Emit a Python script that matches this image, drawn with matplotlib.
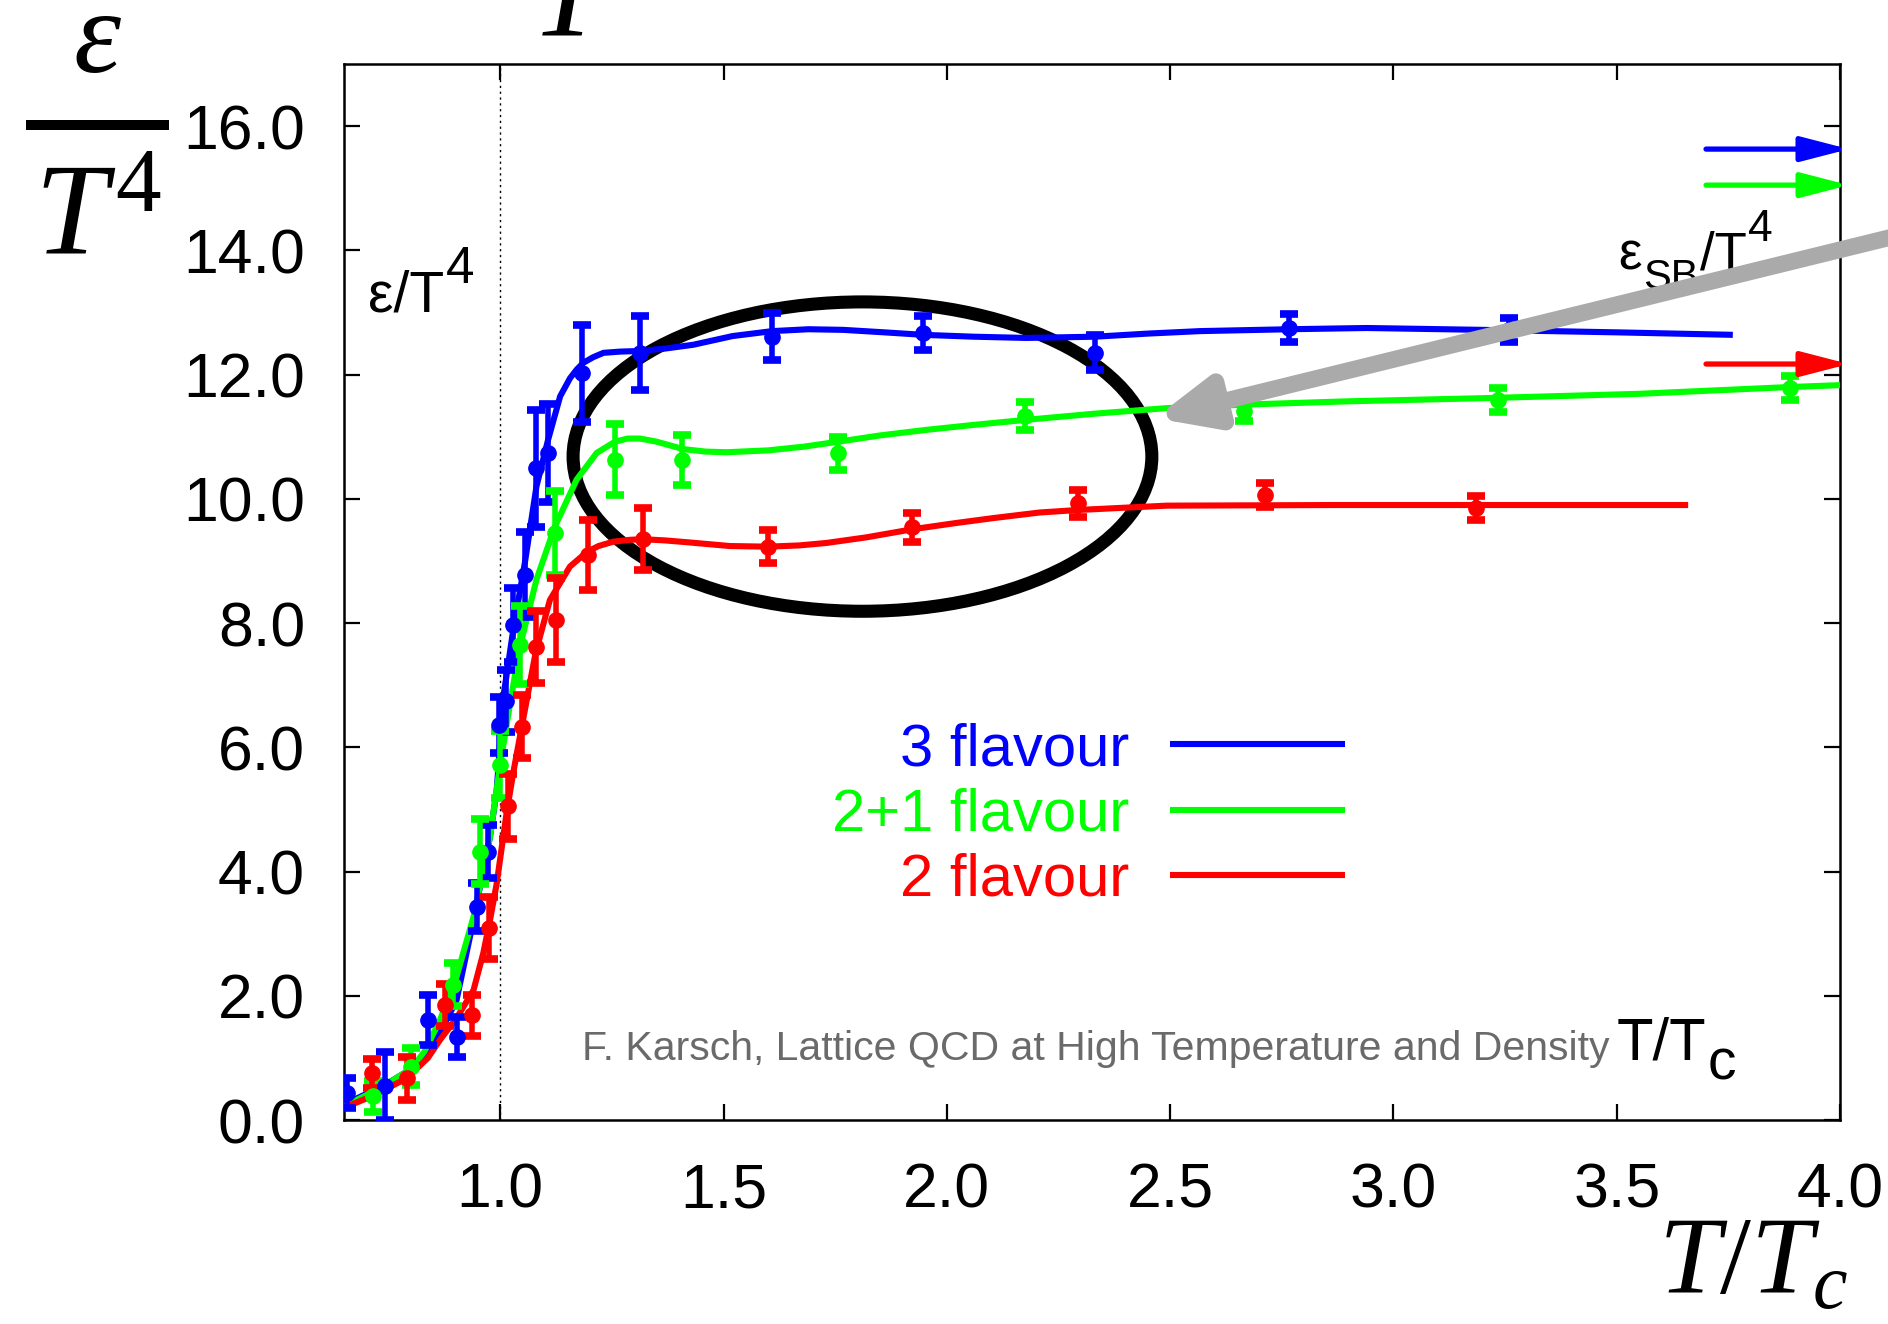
import matplotlib
matplotlib.use("Agg")
import matplotlib.pyplot as plt
from matplotlib.patches import Ellipse
from matplotlib.lines import Line2D

plt.rcParams["font.family"] = ["Liberation Sans", "DejaVu Sans"]
plt.rcParams["mathtext.fontset"] = "custom"
plt.rcParams["mathtext.rm"] = "Liberation Serif"
plt.rcParams["mathtext.it"] = "Liberation Serif:italic"
plt.rcParams["mathtext.bf"] = "Liberation Serif:bold"
plt.rcParams["mathtext.sf"] = "Liberation Sans"

# ---------------------------------------------------------------------------
# Lattice data: energy density eps/T^4 versus T/Tc
# ---------------------------------------------------------------------------
labels = ["3 flavour", "2+1 flavour", "2 flavour"]
colors = ["#0000ff", "#00ff00", "#ff0000"]

# 3 flavour
t3 = [0.656, 0.742, 0.839, 0.902, 0.947, 0.973, 0.996, 1.012, 1.029, 1.055,
      1.081, 1.107, 1.182, 1.313, 1.609, 1.947, 2.332, 2.767, 3.259]
e3 = [0.43, 0.55, 1.61, 1.34, 3.43, 4.32, 6.36, 6.75, 7.97, 8.78,
      10.49, 10.74, 12.02, 12.35, 12.61, 12.67, 12.35, 12.75, 12.72]
d3 = [0.24, 0.55, 0.40, 0.32, 0.39, 0.43, 0.45, 0.50, 0.60, 0.68,
      0.94, 0.79, 0.78, 0.60, 0.38, 0.27, 0.28, 0.22, 0.19]

# 2+1 flavour
t21 = [0.716, 0.800, 0.895, 0.955, 0.999, 1.044, 1.122, 1.257, 1.407,
       1.757, 2.176, 2.666, 3.235, 3.888]
e21 = [0.38, 0.86, 2.18, 4.32, 5.72, 7.65, 9.45, 10.63, 10.63,
       10.73, 11.33, 11.41, 11.59, 11.78]
d21 = [0.25, 0.30, 0.35, 0.52, 0.54, 0.63, 0.68, 0.57, 0.40,
       0.27, 0.23, 0.15, 0.19, 0.19]

# 2 flavour
t2 = [0.712, 0.790, 0.876, 0.936, 0.975, 1.018, 1.048, 1.079, 1.124,
      1.197, 1.319, 1.600, 1.923, 2.293, 2.712, 3.186]
e2 = [0.75, 0.67, 1.85, 1.69, 3.09, 5.05, 6.33, 7.62, 8.05,
      9.10, 9.35, 9.23, 9.54, 9.93, 10.06, 9.85]
d2 = [0.23, 0.35, 0.34, 0.33, 0.50, 0.52, 0.51, 0.58, 0.67,
      0.56, 0.50, 0.27, 0.23, 0.22, 0.19, 0.19]

# smooth fit curves through the data
fit3_t = [0.65, 0.70, 0.75, 0.80, 0.83, 0.865, 0.902, 0.940, 0.962, 0.977,
          0.992, 1.007, 1.029, 1.055, 1.081, 1.107, 1.134, 1.156, 1.171,
          1.186, 1.208, 1.231, 1.268, 1.313, 1.37, 1.432, 1.52, 1.609,
          1.69, 1.768, 1.86, 1.947, 2.06, 2.178, 2.332, 2.45, 2.567,
          2.766, 2.94, 3.20, 3.50, 3.76]
fit3_e = [0.25, 0.42, 0.60, 0.82, 1.05, 1.40, 1.93, 3.22, 4.03, 4.56,
          5.31, 6.82, 7.89, 8.97, 10.20, 10.95, 11.65, 11.94, 12.08,
          12.19, 12.28, 12.35, 12.37, 12.38, 12.42, 12.48, 12.62, 12.70,
          12.73, 12.72, 12.68, 12.64, 12.61, 12.59, 12.61, 12.66, 12.70,
          12.73, 12.75, 12.72, 12.68, 12.64]

fit21_t = [0.65, 0.70, 0.75, 0.80, 0.83, 0.865, 0.902, 0.940, 0.962, 0.977,
           0.999, 1.022, 1.044, 1.081, 1.122, 1.171, 1.216, 1.257, 1.285,
           1.313, 1.35, 1.41, 1.46, 1.507, 1.60, 1.68, 1.757, 1.85, 1.954,
           2.06, 2.175, 2.33, 2.492, 2.679, 2.90, 3.20, 3.549, 3.888, 4.0]
fit21_e = [0.22, 0.40, 0.60, 0.82, 1.10, 1.61, 2.31, 3.27, 4.03, 4.56,
           5.69, 6.71, 7.62, 8.70, 9.55, 10.31, 10.74, 10.92, 10.97,
           10.97, 10.92, 10.80, 10.76, 10.75, 10.78, 10.84, 10.92, 11.02,
           11.11, 11.19, 11.27, 11.37, 11.46, 11.52, 11.57, 11.62, 11.69,
           11.80, 11.83]

fit2_t = [0.65, 0.712, 0.79, 0.838, 0.865, 0.902, 0.940, 0.962, 0.977,
          0.992, 1.014, 1.029, 1.048, 1.079, 1.111, 1.156, 1.195, 1.22,
          1.253, 1.29, 1.319, 1.37, 1.42, 1.514, 1.60, 1.67, 1.731, 1.82,
          1.923, 2.02, 2.104, 2.208, 2.293, 2.492, 2.865, 3.186, 3.66]
fit2_e = [0.20, 0.38, 0.67, 1.00, 1.29, 1.64, 2.09, 2.69, 3.22,
          3.81, 4.94, 5.59, 6.33, 7.52, 8.37, 8.91, 9.15, 9.24,
          9.31, 9.34, 9.35, 9.33, 9.30, 9.24, 9.23, 9.25, 9.29, 9.38,
          9.51, 9.61, 9.69, 9.78, 9.82, 9.89, 9.90, 9.90, 9.90]

# Stefan-Boltzmann limits (3, 2+1, 2 flavour)
sb_levels = [15.63, 15.05, 12.17]

x_ticks = [1.0, 1.5, 2.0, 2.5, 3.0, 3.5, 4.0]
x_tick_labels = ["1.0", "1.5", "2.0", "2.5", "3.0", "3.5", "4.0"]
y_ticks = [0, 2, 4, 6, 8, 10, 12, 14, 16]
y_tick_labels = ["0.0", "2.0", "4.0", "6.0", "8.0", "10.0", "12.0", "14.0", "16.0"]

# ---------------------------------------------------------------------------
W, H = 1888, 1324
fig = plt.figure(figsize=(W / 100, H / 100), dpi=100)
ax = fig.add_axes([344 / W, 1 - 1120 / H, (1840 - 344) / W, (1120 - 64) / H])
ax.set_xlim(0.65, 4.0)
ax.set_ylim(0, 17)

for sp in ax.spines.values():
    sp.set_linewidth(1.8)

ax.set_xticks(x_ticks)
ax.set_xticklabels(x_tick_labels)
ax.set_yticks(y_ticks)
ax.set_yticklabels(y_tick_labels)
ax.tick_params(direction="in", length=11.5, width=1.6, top=True, right=True,
               labelsize=45, colors="black")
ax.tick_params(axis="x", pad=30)
ax.tick_params(axis="y", pad=28)

# Tc marker
ax.axvline(1.0, color="black", lw=1.0, ls=(0, (1.6, 2.6)), zorder=1)

# highlighted region
ax.add_patch(Ellipse((1.811, 10.68), 1.296, 4.98, fill=False, lw=9.4,
                     ec="black", zorder=2))

series = [(t3, e3, d3, fit3_t, fit3_e),
          (t21, e21, d21, fit21_t, fit21_e),
          (t2, e2, d2, fit2_t, fit2_e)]
handles = []
for (t, e, d, ft, fe), c in zip(series, colors):
    ax.errorbar(t, e, yerr=d, fmt="o", color=c, ms=11, elinewidth=4.0,
                capsize=6.5, capthick=5.5, zorder=4)
    h, = ax.plot(ft, fe, color=c, lw=4.4, solid_joinstyle="round",
                 solid_capstyle="butt", zorder=3)
    handles.append(h)

# Stefan-Boltzmann arrows at the right edge
for lvl, c in zip(sb_levels, colors):
    ax.annotate("", xy=(4.02, lvl), xytext=(3.70, lvl),
                arrowprops=dict(arrowstyle="-|>,head_length=2.9,head_width=0.75",
                                mutation_scale=10, lw=3.8, color=c,
                                shrinkA=0, shrinkB=0),
                annotation_clip=False, zorder=5)

leg = ax.legend(handles, labels, loc="center right",
                bbox_to_anchor=(1345 / W, 1 - 815 / H),
                bbox_transform=fig.transFigure, frameon=False,
                markerfirst=False, labelcolor="linecolor", fontsize=43,
                handlelength=2.93, handletextpad=0.68, labelspacing=0.17,
                borderpad=0, borderaxespad=0)


def text_chain(x, y, pieces, **kw):
    """Draw text pieces one after another; each is (text, size, rise_pt)."""
    s, size, rise = pieces[0]
    base = fig.text(x, y, s, fontsize=size, va="baseline", ha="left", **kw)
    prev = base
    for s, size, rise in pieces[1:]:
        prev = ax.annotate(s, xy=(1, 0), xycoords=(prev, base),
                           xytext=(1.0, rise), textcoords="offset points",
                           va="bottom", ha="left", fontsize=size,
                           annotation_clip=False, **kw)
    return base


# labels inside the frame
text_chain(368 / W, 1 - 311 / H, [("ε/T", 41, 0), ("4", 37, 21)], zorder=6)
text_chain(1618 / W, 1 - 270 / H,
           [("ε", 38, 0), ("SB", 30, -12), ("/T", 38, 0), ("4", 32, 22)],
           zorder=6)

fig.text(1610 / W, 1 - 1060 / H,
         "F. Karsch, Lattice QCD at High Temperature and Density",
         ha="right", va="baseline", fontsize=29.5, color="#6a6a6a")
text_chain(1617 / W, 1 - 1060 / H, [("T/T", 43, 0), ("c", 41, -14)])

# pointer into the highlighted region
ax.annotate("", xy=(2.466, 11.30), xycoords="data",
            xytext=((W + 80) / W, 1 - (238 - 80 * 0.2456) / H),
            textcoords="figure fraction",
            arrowprops=dict(arrowstyle="-|>,head_length=3.4,head_width=1.5",
                            mutation_scale=10, lw=12, color="#aaaaaa",
                            shrinkA=0, shrinkB=0),
            annotation_clip=False, zorder=10)

# large axis captions
fig.text(97 / W, 1 - 72 / H, "ε", fontsize=86, family="Liberation Serif",
         style="italic", ha="center", va="baseline")
fig.add_artist(Line2D([26 / W, 169 / W], [1 - 125 / H, 1 - 125 / H],
                      transform=fig.transFigure, lw=7.2, color="black",
                      solid_capstyle="butt"))
fig.text(98 / W, 1 - 255 / H, r"$T^4$", fontsize=94, ha="center", va="baseline")
fig.text(530 / W, 1 - 36 / H, r"$T^4$", fontsize=94, ha="left", va="baseline")
fig.text(1658 / W, 1 - 1294 / H, r"$T/T_c$", fontsize=80, ha="left",
         va="baseline")

fig.savefig("out.png", dpi=100)
